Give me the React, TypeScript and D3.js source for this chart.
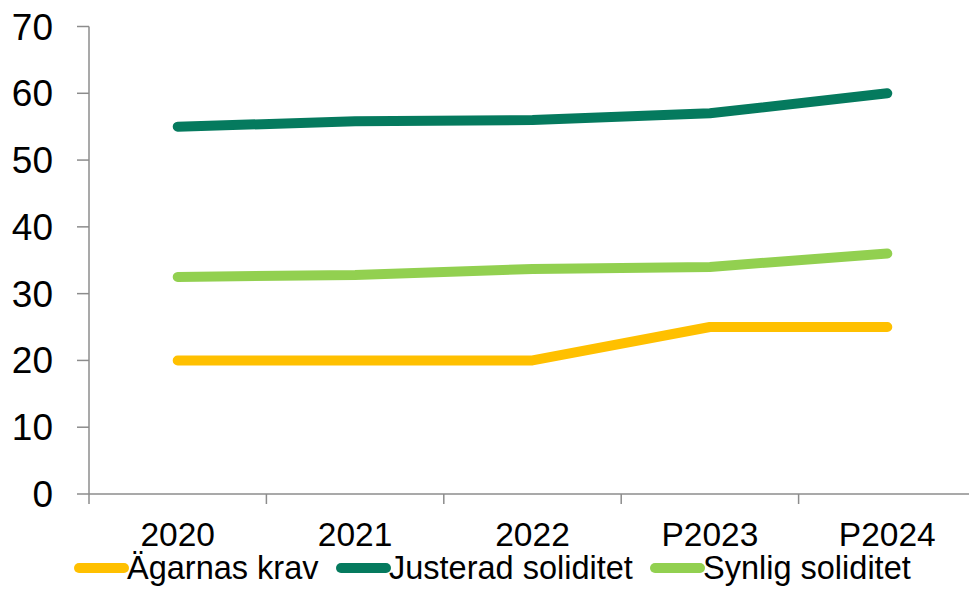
import React from "react";
import * as d3 from "d3";

const categories = ["2020", "2021", "2022", "P2023", "P2024"];
const agarnasKrav = [20, 20, 20, 25, 25];
const justeradSoliditet = [55, 55.8, 56, 57, 60];
const synligSoliditet = [32.5, 32.8, 33.7, 34, 36];
const yTicks = [0, 10, 20, 30, 40, 50, 60, 70];

const seriesNames = ["Ägarnas krav", "Justerad soliditet", "Synlig soliditet"];
const seriesColors = ["#FFC000", "#057A5E", "#92D050"];

const W = 969;
const H = 593;
const left = 89;
const right = 976;
const top = 26.5;
const bottom = 494;
const font = "'Liberation Sans', Arial, sans-serif";

export default function App() {
  const x = d3.scaleBand<string>().domain(categories).range([left, right]).padding(0);
  const y = d3.scaleLinear().domain([0, 70]).range([bottom, top]);
  const line = d3
    .line<number>()
    .x((_, i) => (x(categories[i]) as number) + x.bandwidth() / 2)
    .y((d) => y(d));

  const series = [agarnasKrav, justeradSoliditet, synligSoliditet];
  const axisColor = "#8c8c8c";

  const legendItems = [
    { sx: 79, tx: 127 },
    { sx: 341, tx: 389 },
    { sx: 655, tx: 703 },
  ];

  return (
    <svg
      width={W}
      height={H}
      style={{ position: "absolute", left: 0, top: 0, background: "#fff" }}
      fontFamily={font}
    >
      {/* y axis */}
      <line x1={left} x2={left} y1={y(70)} y2={bottom} stroke={axisColor} strokeWidth={1.5} />
      {yTicks.map((t) => (
        <g key={t}>
          <line x1={left - 12} x2={left} y1={y(t)} y2={y(t)} stroke={axisColor} strokeWidth={1.5} />
          <text x={53} y={y(t) + 13} textAnchor="end" fontSize={37} fill="#000">
            {t}
          </text>
        </g>
      ))}
      {/* x axis */}
      <line x1={left} x2={right} y1={bottom} y2={bottom} stroke={axisColor} strokeWidth={1.5} />
      {categories.map((c, i) => (
        <g key={c}>
          <line
            x1={(x(c) as number)}
            x2={(x(c) as number)}
            y1={bottom}
            y2={bottom + 10}
            stroke={axisColor}
            strokeWidth={1.5}
          />
          <text
            x={(x(c) as number) + x.bandwidth() / 2}
            y={546}
            textAnchor="middle"
            fontSize={33.5}
            fill="#000"
          >
            {c}
          </text>
        </g>
      ))}
      {/* series */}
      {series.map((s, i) => (
        <path
          key={seriesNames[i]}
          d={line(s) as string}
          fill="none"
          stroke={seriesColors[i]}
          strokeWidth={10}
          strokeLinecap="round"
          strokeLinejoin="round"
        />
      ))}
      {/* legend */}
      {seriesNames.map((n, i) => (
        <g key={n}>
          <line
            x1={legendItems[i].sx}
            x2={legendItems[i].sx + 45}
            y1={568}
            y2={568}
            stroke={seriesColors[i]}
            strokeWidth={10}
            strokeLinecap="round"
          />
          <text x={legendItems[i].tx} y={579} fontSize={32.5} fill="#000">
            {n}
          </text>
        </g>
      ))}
    </svg>
  );
}
